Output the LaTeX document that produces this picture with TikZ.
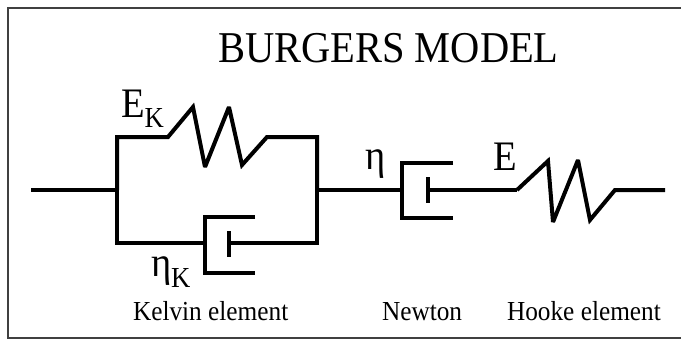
\documentclass[tikz,border=0pt]{standalone}
\usepackage{fontspec}
\setmainfont{Liberation Serif}[FakeStretch=0.92]
\begin{document}
\begin{tikzpicture}[x=1pt, y=-1pt, line width=4pt, miter limit=3,
    every node/.style={inner sep=0pt, outer sep=0pt, anchor=base west},
    symb/.style={font=\fontsize{42}{42}\selectfont},
    caption/.style={font=\fontsize{27.5}{27.5}\selectfont}]
    \useasboundingbox (0,0) rectangle (681,340);
    % frame
    \draw[line width=2pt, black!75] (681,8) -- (8,8) -- (8,338) -- (681,338);
    \node[font=\fontsize{44}{44}\selectfont] (title) at (218,63) {BURGERS MODEL};

    % junctions
    \coordinate (in) at (31,190);
    \coordinate (kl) at (117,190);
    \coordinate (kr) at (317,190);
    \coordinate (nr) at (517,190);
    \coordinate (out) at (665,190);

    % Kelvin element
    \draw (in) -- (kl);
    \draw (kl) |- (168,137) -- (193,107) -- (205,167) -- (229,107) -- (242,165) -- (267,137) -| (kr);
    \draw (kl) |- (205,243);
    \draw (255,217) -| (205,273) -- (255,273);
    \draw (229,231) -- (229,257);
    \draw (229,243) -| (kr);

    % Newton element
    \draw (kr) -- (402,190);
    \draw (453,163) -| (402,218) -- (453,218);
    \draw (428,177) -- (428,203);
    \draw (428,190) -- (nr);

    % Hooke element
    \draw (nr) -- (548,161) -- (553,222) -- (578,160) -- (590,220) -- (615,190) -- (out);

    % labels
    \node[symb] (ek) at (121,117) {E\raisebox{-10pt}{\fontsize{29}{29}\selectfont K}};
    \node[symb] (etak) at (151,276) {η\raisebox{-11pt}{\fontsize{29}{29}\selectfont K}};
    \node[symb] (eta) at (365,169) {η};
    \node[symb] (e) at (493,170) {E};
    \node[caption] (kelvin) at (133,320) {Kelvin element};
    \node[caption] (newton) at (382,320) {Newton};
    \node[caption] (hooke) at (507,320) {Hooke element};
\end{tikzpicture}
\end{document}
